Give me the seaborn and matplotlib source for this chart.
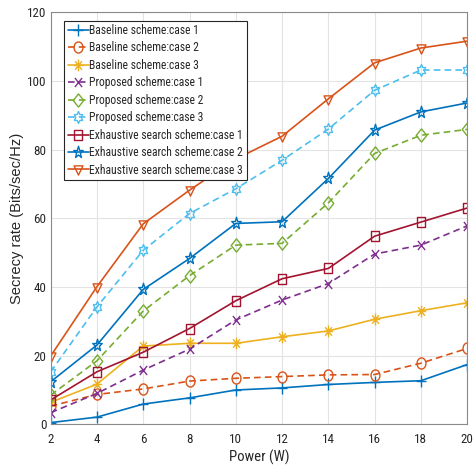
import numpy as np
import pandas as pd
import matplotlib
matplotlib.use("Agg")
import matplotlib.pyplot as plt
from matplotlib.path import Path
import seaborn as sns

power = [2, 4, 6, 8, 10, 12, 14, 16, 18, 20]

baseline_case1 = [0.5, 2.1, 5.9, 7.7, 10.0, 10.6, 11.6, 12.2, 12.7, 17.4]
baseline_case2 = [5.3, 8.7, 10.3, 12.6, 13.4, 13.9, 14.4, 14.5, 17.8, 22.1]
baseline_case3 = [6.4, 11.7, 22.8, 23.6, 23.6, 25.5, 27.2, 30.6, 33.1, 35.4]
proposed_case1 = [3.4, 9.0, 15.8, 21.9, 30.4, 36.2, 41.0, 49.6, 52.2, 57.8]
proposed_case2 = [8.5, 18.5, 33.0, 43.3, 52.2, 52.7, 64.5, 78.9, 84.2, 85.9]
proposed_case3 = [15.3, 34.2, 50.7, 61.4, 68.6, 76.9, 86.0, 97.3, 103.2, 103.2]
exhaustive_case1 = [7.1, 15.3, 21.0, 27.9, 36.0, 42.4, 45.4, 54.8, 58.9, 63.0]
exhaustive_case2 = [12.4, 23.1, 39.3, 48.3, 58.5, 59.0, 71.6, 85.7, 91.0, 93.6]
exhaustive_case3 = [19.9, 40.1, 58.4, 68.2, 77.3, 83.9, 94.8, 105.3, 109.6, 111.6]

labels = [
    "Baseline scheme:case 1",
    "Baseline scheme:case 2",
    "Baseline scheme:case 3",
    "Proposed scheme:case 1",
    "Proposed scheme:case 2",
    "Proposed scheme:case 3",
    "Exhaustive search scheme:case 1",
    "Exhaustive search scheme:case 2",
    "Exhaustive search scheme:case 3",
]
series = [baseline_case1, baseline_case2, baseline_case3,
          proposed_case1, proposed_case2, proposed_case3,
          exhaustive_case1, exhaustive_case2, exhaustive_case3]

# marker shapes, slightly narrowed horizontally like the reference
SX = 0.8
M, L = Path.MOVETO, Path.LINETO


def squeeze(path):
    v = path.vertices.copy()
    v[:, 0] *= SX
    return Path(v, path.codes)


def segs(pairs):
    verts, codes = [], []
    for a, b in pairs:
        verts += [a, b]
        codes += [M, L]
    return Path(np.array(verts, float), codes)


m_plus = squeeze(segs([((-1, 0), (1, 0)), ((0, -1), (0, 1))]))
m_x = squeeze(segs([((-1, -1), (1, 1)), ((-1, 1), (1, -1))]))
d = 0.72
m_star = squeeze(segs([((-1, 0), (1, 0)), ((0, -1), (0, 1)),
                       ((-d, -d), (d, d)), ((-d, d), (d, -d))]))
m_circle = squeeze(Path.unit_circle())
m_diamond = squeeze(Path([(0, -1), (1, 0), (0, 1), (-1, 0), (0, -1)],
                         [M, L, L, L, Path.CLOSEPOLY]))
m_square = squeeze(Path([(-1, -1), (1, -1), (1, 1), (-1, 1), (-1, -1)],
                        [M, L, L, L, Path.CLOSEPOLY]))
m_hex = squeeze(Path.unit_regular_star(6, 0.577))
m_pent = squeeze(Path.unit_regular_star(5, 0.40))
m_tri = squeeze(Path([(-1, 0.65), (1, 0.65), (0, -1), (-1, 0.65)],
                     [M, L, L, Path.CLOSEPOLY]))

colors = ["#0072BD", "#D95319", "#EDB120", "#7E2F8E", "#77AC30",
          "#4DBEEE", "#A2142F", "#0072BD", "#D95319"]
markers = [m_plus, m_circle, m_star, m_x, m_diamond, m_hex, m_square, m_pent, m_tri]
msizes = [8.5, 8.0, 8.5, 6.5, 9.5, 8.5, 7.5, 9.0, 8.0]
dashed = (0, (4.0, 2.5))
styles = ["-", dashed, "-", dashed, dashed, dashed, "-", "-", "-"]

sns.set_theme(style="white")
cond = ["Roboto Condensed", "Archivo Narrow", "PT Sans Narrow", "Liberation Sans", "DejaVu Sans"]
plt.rcParams["font.family"] = cond

fig = plt.figure(figsize=(4.76, 4.65), dpi=100)
ax = fig.add_axes([0.1065, 0.0875, 0.875, 0.886])

for lab, vals, c, m, ms, ls in zip(labels, series, colors, markers, msizes, styles):
    df = pd.DataFrame({"Power": power, "Rate": vals})
    sns.lineplot(data=df, x="Power", y="Rate", ax=ax, color=c, marker=m,
                 markersize=ms, markerfacecolor="none", markeredgecolor=c,
                 markeredgewidth=1.0, linestyle=ls, linewidth=1.2, label=lab)

ax.set_xlim(2, 20)
ax.set_ylim(0, 120)
ax.set_xticks(power)
ax.set_yticks(np.arange(0, 121, 20))
ax.grid(True, color="#e3e3e3", linewidth=0.8)
ax.set_axisbelow(True)
for s in ax.spines.values():
    s.set_color("#8a8a8a")
    s.set_linewidth(0.8)
ax.tick_params(direction="in", length=3, width=0.6, colors="#8a8a8a",
               labelcolor="#262626", labelsize=9.4)
ax.tick_params(axis="y", pad=3)
ax.tick_params(axis="x", pad=6)
ax.set_xlabel("Power (W)", fontsize=10.6, color="#262626", labelpad=3)
ax.set_ylabel("Secrecy rate (Bits/sec/Hz)", fontsize=10.6, color="#262626",
              labelpad=2, family=["Liberation Sans", "DejaVu Sans"])

leg = ax.legend(loc="upper left", bbox_to_anchor=(0.032, 0.98), fontsize=8.4,
                frameon=True, fancybox=False, framealpha=1, edgecolor="#262626",
                handlelength=1.8, handletextpad=0.08, borderpad=0.3,
                labelspacing=0.38, borderaxespad=0)
leg.get_frame().set_linewidth(0.8)
for t in leg.get_texts():
    t.set_color("#262626")

fig.savefig("out.png", dpi=100)
